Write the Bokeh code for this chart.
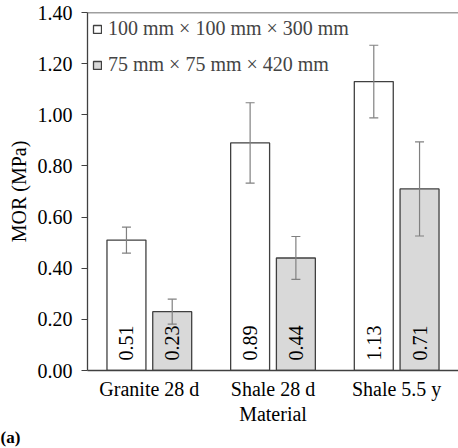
import math
from bokeh.plotting import figure
from bokeh.models import (ColumnDataSource, FactorRange, Range1d, Whisker, TeeHead,
                          Legend, LegendItem, Title, Span, NumeralTickFormatter, FixedTicker)
from bokeh.transform import dodge
from bokeh.core.properties import value
from bokeh.embed import file_html
from bokeh.resources import INLINE

# ---- data ----
materials = ["Granite 28 d", "Shale 28 d", "Shale 5.5 y"]
mor_100 = [0.51, 0.89, 1.13]
mor_75 = [0.23, 0.44, 0.71]
err_100 = [0.051, 0.157, 0.142]
err_75 = [0.049, 0.084, 0.184]
series_labels = ["100 mm \u00d7 100 mm \u00d7 300 mm", "75 mm \u00d7 75 mm \u00d7 420 mm"]
y_ticks = [0.0, 0.2, 0.4, 0.6, 0.8, 1.0, 1.2, 1.4]
x_title = "Material"
y_title = "MOR (MPa)"
panel_tag = "(a)"

FONT = "Liberation Serif"
FS = "20px"
DARK = "#404040"

src = ColumnDataSource(dict(
    material=materials,
    v100=mor_100, v75=mor_75,
    up100=[v + e for v, e in zip(mor_100, err_100)],
    lo100=[v - e for v, e in zip(mor_100, err_100)],
    up75=[v + e for v, e in zip(mor_75, err_75)],
    lo75=[v - e for v, e in zip(mor_75, err_75)],
    t100=["%.2f" % v for v in mor_100],
    t75=["%.2f" % v for v in mor_75],
    zero=[0.0] * len(materials),
))

p = figure(width=458, height=448, x_range=FactorRange(*materials, range_padding=0),
           y_range=Range1d(0, 1.4), output_backend="svg", toolbar_location=None,
           min_border_left=87, min_border_right=0, min_border_top=12, min_border_bottom=68)
p.outline_line_color = None
p.xgrid.grid_line_color = None
p.ygrid.grid_line_color = None

OFF = 0.185
BW = 0.315
r1 = p.vbar(x=dodge("material", -OFF, range=p.x_range), top="v100", width=BW, source=src,
            fill_color="white", line_color=DARK, line_width=1.3)
r2 = p.vbar(x=dodge("material", OFF, range=p.x_range), top="v75", width=BW, source=src,
            fill_color="#d9d9d9", line_color=DARK, line_width=1.3)

for off, up, lo in [(-OFF, "up100", "lo100"), (OFF, "up75", "lo75")]:
    w = Whisker(base=dodge("material", off, range=p.x_range), upper=up, lower=lo, source=src,
                line_color="#808080", line_width=1.2, level="annotation",
                upper_head=TeeHead(size=9, line_color="#808080", line_width=1.2),
                lower_head=TeeHead(size=9, line_color="#808080", line_width=1.2))
    p.add_layout(w)

for off, col in [(-OFF, "t100"), (OFF, "t75")]:
    p.text(x=dodge("material", off, range=p.x_range), y="zero", text=col, source=src,
           angle=math.pi / 2, text_align="left", text_baseline="middle", y_offset=-10,
           text_font=value(FONT), text_font_size=FS, text_color="black")

p.add_layout(Span(location=1.4, dimension="width", line_color=DARK, line_width=1.3))

# axes
p.yaxis.ticker = FixedTicker(ticks=y_ticks)
p.yaxis.formatter = NumeralTickFormatter(format="0.00")
p.yaxis.axis_label = y_title
p.xaxis.axis_label = x_title
for ax in (p.xaxis, p.yaxis):
    ax.axis_line_color = DARK
    ax.axis_line_width = 1.3
    ax.major_label_text_font = FONT
    ax.major_label_text_font_size = FS
    ax.major_label_text_color = "black"
    ax.axis_label_text_font = FONT
    ax.axis_label_text_font_size = FS
    ax.axis_label_text_font_style = "normal"
    ax.axis_label_text_color = "black"
p.yaxis.major_tick_line_color = DARK
p.yaxis.major_tick_in = 0
p.yaxis.major_tick_out = 6
p.yaxis.minor_tick_line_color = None
p.yaxis.major_label_standoff = 9
p.yaxis.axis_label_standoff = 5
p.xaxis.major_tick_line_color = None
p.xaxis.minor_tick_line_color = None
p.xaxis.major_label_standoff = 1
p.xaxis.axis_label_standoff = 0

legend = Legend(items=[LegendItem(label=series_labels[0], renderers=[r1]),
                       LegendItem(label=series_labels[1], renderers=[r2])],
                location="top_left", label_text_font=FONT, label_text_font_size=FS,
                glyph_width=10, glyph_height=10, label_standoff=6, label_height=20,
                spacing=13, padding=13, margin=5, border_line_color=None,
                background_fill_alpha=0)
p.add_layout(legend)

p.add_layout(Title(text=panel_tag, text_font=FONT, text_font_style="bold",
                   text_font_size="17px", align="left", vertical_align="top",
                   offset=-87, standoff=0, text_color="black"), "below")

open("out.html", "w").write(file_html(p, INLINE))
